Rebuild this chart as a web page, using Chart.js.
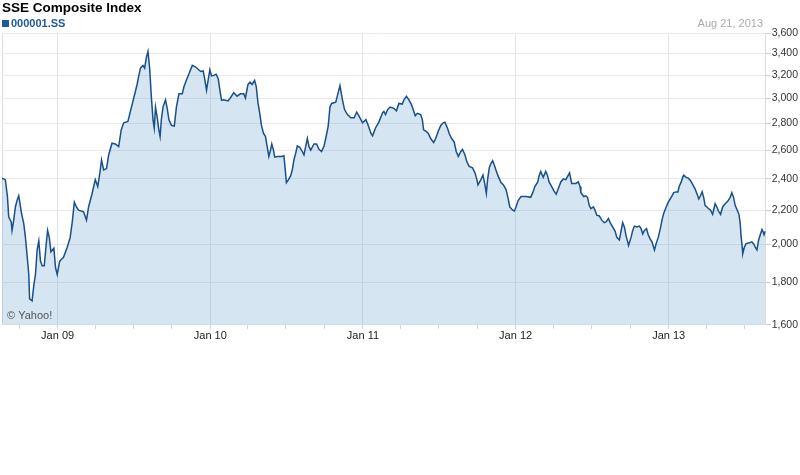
<!DOCTYPE html>
<html><head><meta charset="utf-8">
<script src="https://cdn.jsdelivr.net/npm/chart.js@4.4.1/dist/chart.umd.min.js"></script>
<style>html,body{margin:0;padding:0;background:#fff}#wrap{width:800px;height:475px;position:relative}</style>
</head><body><div id="wrap"><canvas id="c" width="800" height="475"></canvas></div>
<script>
const chartTitle = 'SSE Composite Index';
const seriesName = '000001.SS';
const asOfLabel = 'Aug 21, 2013';
const credit = '\u00A9 Yahoo!';
const startDate = [2008, 7, 21];   // day 0 = Aug 21, 2008
const endDay = 1826;               // Aug 21, 2013

// trading-day offsets (days since Aug 21, 2008) and closes
const days = [0,8,13,16,22,24,28,32,36,40,42,46,52,56,60,64,66,72,76,80,84,88,92,96,101,105,109,113,117,124,128,132,138,147,156,163,168,173,178,183,195,202,207,215,223,229,234,238,243,250,255,263,271,279,285,291,301,307,315,323,327,331,337,341,345,349,353,357,361,364,367,371,375,378,381,385,391,395,399,405,412,417,423,431,435,441,447,455,463,475,481,485,489,493,497,501,506,512,517,521,525,530,540,546,554,562,570,578,582,588,593,598,604,608,612,616,620,625,630,634,638,642,645,649,652,660,668,674,677,680,685,690,694,698,702,706,712,718,722,726,730,734,738,746,752,758,764,770,775,780,784,788,798,803,808,814,819,826,834,842,848,854,862,870,875,882,886,893,901,910,913,917,922,928,937,943,949,957,961,967,973,979,983,988,993,1001,1005,1008,1013,1019,1025,1032,1037,1043,1049,1055,1059,1065,1069,1075,1081,1086,1091,1097,1101,1107,1111,1117,1125,1131,1135,1138,1145,1150,1154,1158,1161,1165,1169,1173,1177,1181,1186,1193,1199,1205,1210,1214,1221,1225,1229,1234,1241,1253,1264,1269,1274,1281,1284,1288,1294,1300,1304,1308,1314,1320,1325,1330,1336,1342,1348,1354,1357,1362,1372,1378,1382,1384,1391,1396,1400,1404,1408,1414,1418,1422,1428,1434,1440,1444,1450,1454,1460,1466,1470,1476,1480,1484,1488,1492,1496,1498,1504,1508,1512,1518,1524,1528,1532,1536,1541,1545,1550,1554,1560,1564,1569,1574,1578,1582,1588,1593,1600,1606,1612,1616,1619,1624,1628,1630,1636,1641,1646,1652,1657,1662,1666,1670,1674,1678,1681,1687,1694,1699,1705,1710,1713,1718,1723,1729,1735,1741,1745,1749,1753,1758,1762,1765,1767,1770,1771,1775,1779,1787,1793,1798,1801,1805,1809,1813,1817,1820,1822,1825];
const closes = [2405,2395,2285,2160,2130,2080,2140,2220,2260,2290,2260,2190,2120,2040,1940,1840,1720,1710,1785,1840,1970,2020,1910,1885,1885,1985,2080,2040,1960,1980,1875,1840,1910,1930,1985,2040,2130,2250,2220,2200,2190,2140,2220,2300,2395,2350,2440,2530,2460,2470,2565,2650,2645,2625,2750,2805,2815,2895,3005,3120,3195,3265,3290,3265,3360,3420,3265,3020,2830,2765,2930,2850,2750,2700,2830,2930,2990,2920,2830,2785,2780,2930,3040,3040,3100,3160,3215,3290,3275,3235,3240,3160,3070,3160,3250,3195,3200,3210,3170,3070,2985,2990,2980,3005,3050,3020,3040,3040,3005,3120,3140,3120,3155,3100,2965,2885,2790,2725,2700,2625,2555,2600,2645,2600,2550,2555,2555,2560,2470,2375,2395,2420,2460,2530,2575,2630,2620,2590,2565,2625,2685,2625,2600,2645,2645,2605,2590,2630,2700,2780,2930,2960,2970,3040,3110,2990,2910,2870,2845,2845,2890,2855,2805,2830,2790,2725,2705,2765,2810,2885,2895,2870,2910,2930,2920,2900,2960,2955,2990,3020,2990,2950,2910,2860,2880,2870,2830,2750,2740,2725,2685,2655,2685,2740,2785,2805,2810,2765,2725,2685,2660,2590,2555,2590,2605,2565,2520,2485,2475,2440,2400,2360,2395,2425,2370,2305,2395,2475,2505,2525,2495,2460,2420,2375,2360,2330,2275,2220,2200,2195,2220,2260,2285,2285,2280,2310,2350,2380,2420,2450,2410,2450,2425,2380,2350,2320,2300,2335,2380,2400,2395,2425,2440,2370,2370,2380,2350,2310,2285,2290,2280,2230,2210,2220,2200,2170,2165,2140,2125,2130,2150,2125,2100,2075,2040,2025,2075,2125,2100,2050,2015,1995,2040,2080,2105,2100,2105,2090,2060,2080,2090,2055,2030,2015,1970,2005,2040,2090,2140,2180,2220,2250,2280,2310,2315,2315,2350,2380,2415,2425,2410,2405,2390,2360,2335,2300,2270,2290,2315,2275,2230,2215,2200,2175,2240,2215,2195,2175,2220,2240,2255,2280,2310,2280,2230,2200,2175,2120,2050,1980,1950,1985,2005,2010,2015,2000,1985,1970,2025,2055,2085,2070,2055,2075];

const yTicks = [1600,1800,2000,2200,2400,2600,2800,3000,3200,3400,3600];
const tickYears = [2008,2009,2010,2011,2012,2013];
const yearLabels = {2009:'Jan 09',2010:'Jan 10',2011:'Jan 11',2012:'Jan 12',2013:'Jan 13'};

const FONT = '"Liberation Sans", Arial, Helvetica, sans-serif';
const t0 = Date.UTC(startDate[0], startDate[1], startDate[2]);
const xTicks = [{day:0,label:'',kind:'edge'}];
tickYears.forEach(y => [0,3,6,9].forEach(m => {
  const d = Math.round((Date.UTC(y, m, 1) - t0) / 86400000);
  if (d > 0 && d < endDay) xTicks.push({day:d, label: m === 0 ? (yearLabels[y] || '') : '', kind: m === 0 ? 'year' : 'quarter'});
}));
const tickKind = {}; xTicks.forEach(t => tickKind[t.day] = t);

const fmt = v => String(Math.round(v)).replace(/\B(?=(\d{3})+(?!\d))/g, ',');

const textPlugin = {
  id: 'texts',
  afterDraw(chart) {
    const c = chart.ctx;
    c.save();
    c.textBaseline = 'alphabetic';
    c.textAlign = 'left';
    c.fillStyle = '#000';
    c.font = 'bold 13.5px ' + FONT;
    c.fillText(chartTitle, 2, 12);
    c.fillStyle = '#1f5a99';
    c.fillRect(2, 20, 7, 7);
    c.font = 'bold 11px ' + FONT;
    c.fillText(seriesName, 11, 27);
    c.font = '11px ' + FONT;
    c.fillStyle = '#aaaaaa';
    c.textAlign = 'right';
    c.fillText(asOfLabel, 763, 27);
    c.textAlign = 'left';
    c.fillStyle = '#555555';
    c.fillText(credit, 7, 319);
    c.restore();
  }
};

new Chart(document.getElementById('c'), {
  type: 'line',
  data: {
    datasets: [{
      label: seriesName,
      data: days.map((d, i) => ({x: d, y: closes[i]})),
      borderColor: '#1a4f8a',
      borderWidth: 1.5,
      backgroundColor: 'rgba(100,160,205,0.27)',
      fill: 'start',
      pointRadius: 0,
      tension: 0
    }]
  },
  options: {
    responsive: false,
    animation: false,
    layout: {padding: {left: 2, top: 33, right: 1, bottom: 131}},
    plugins: {legend: {display: false}, tooltip: {enabled: false}, title: {display: false}},
    scales: {
      x: {
        type: 'linear', min: 0, max: endDay,
        afterBuildTicks: s => { s.ticks = xTicks.map(t => ({value: t.day})); },
        ticks: {
          autoSkip: false, maxRotation: 0, minRotation: 0, padding: 1,
          color: '#222', font: {family: FONT, size: 11},
          callback: v => (tickKind[v] ? tickKind[v].label : '')
        },
        grid: {
          drawTicks: true, tickLength: 4, lineWidth: 1,
          color: ctx => { const k = ctx.tick && tickKind[ctx.tick.value]; if (!k) return 'rgba(0,0,0,0)'; return k.kind === 'year' ? '#dfe4eb' : (k.kind === 'edge' ? '#dddddd' : 'rgba(0,0,0,0)'); },
          tickColor: ctx => { const k = ctx.tick && tickKind[ctx.tick.value]; return (k && k.kind !== 'edge') ? '#d4d4d4' : 'rgba(0,0,0,0)'; }
        },
        border: {display: true, color: '#e6e6e6'}
      },
      y: {
        type: 'logarithmic', position: 'right', min: 1600, max: 3600,
        afterBuildTicks: s => { s.ticks = yTicks.map(v => ({value: v})); },
        ticks: {
          autoSkip: false, padding: 1, color: '#333', font: {family: FONT, size: 10.5},
          callback: v => fmt(v)
        },
        grid: {color: '#e6e9ef', tickColor: '#cccccc', tickLength: 5, lineWidth: 1},
        border: {display: true, color: '#dddddd'}
      }
    }
  },
  plugins: [textPlugin]
});
</script>
</body></html>
